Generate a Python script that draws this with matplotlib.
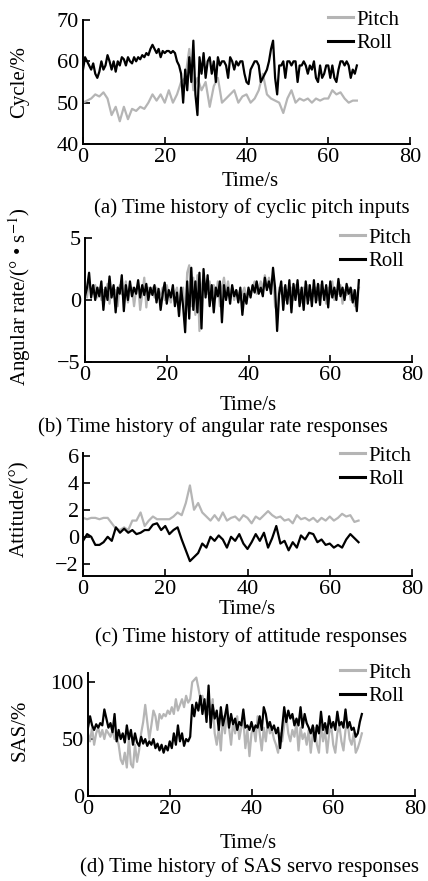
import numpy as np
import matplotlib
matplotlib.use("Agg")
import matplotlib.pyplot as plt

plt.rcParams['font.family'] = ['Liberation Serif', 'DejaVu Serif']
plt.rcParams['mathtext.fontset'] = 'stix'

# (a) cyclic pitch inputs, Cycle/%
roll_a = [58, 61, 60, 59, 58, 59.5, 57, 56, 57.5, 60,
          58, 59, 61.5, 60, 58, 60, 57.5, 60, 59, 61,
          60.5, 59, 61, 60, 59.5, 61, 60, 61, 60.5, 61.5,
          61, 62, 61.5, 63, 64, 63, 62, 63, 61, 62.5,
          62, 62.5, 62.5, 62, 62.5, 62, 60, 59, 57, 50,
          58, 53, 61, 55, 65, 52, 47, 61, 57, 62,
          56, 60, 61, 57, 60, 55, 61, 59, 60, 60,
          59, 56, 61, 60, 58, 60, 59, 60, 60, 57,
          55, 54.5, 58, 59, 60, 60, 59, 55, 56, 57,
          58, 60, 63, 65, 56, 52, 59, 59, 60, 56,
          60, 60, 59, 60, 60, 55, 59, 59, 60, 59,
          57, 59, 58, 60, 56, 55, 59, 56, 57, 59,
          59, 56, 59, 56, 55, 58, 60, 60, 59, 60,
          59, 56, 58, 57, 59]
pitch_a = [50, 50.5, 51, 52, 51.5, 52.5, 51, 47, 49, 45.5,
           49, 46, 48.5, 48, 49, 48.5, 50, 52, 50.5, 52,
           50, 53, 50, 52, 55, 56, 63, 53, 56, 53,
           55, 49, 54, 56, 50, 51, 52, 53, 50, 51.5,
           52, 50, 51, 53, 57, 52, 51, 50.5, 50, 47.5,
           51, 53, 50, 51, 50.5, 51, 50, 51, 50.5, 51,
           51, 53, 52, 52.5, 51, 50, 50.5, 50.5]

# (b) angular rate responses
roll_b = [0.3, 1.0, 2.2, 0.2, 1.2, 0.0, 1.0, 0.3, 1.5, -0.8,
          1.0, 0.0, 1.9, 0.2, 1.2, -1.0, 1.0, 0.5, 2.0, -0.9,
          1.2, 0.0, 1.5, 0.3, 1.0, 0.5, 1.6, 0.2, 1.2, 0.4,
          1.3, 0.0, 1.0, 0.4, 1.2, -0.2, 0.9, -0.8, 0.5, 1.4,
          -0.3, 0.8, 0.2, 1.2, -0.5, 0.6, -1.3, 1.0, -0.5, -2.6,
          1.5, -1.5, 2.6, -0.8, 1.5, -1.0, 2.2, -2.3, 2.5, 0.2,
          2.0, -0.5, 1.2, -1.0, 1.0, 0.3, 1.5, -1.8, 1.2, 0.0,
          1.0, -0.3, 1.2, 0.3, 0.8, -0.2, 1.0, -1.2, 0.5, -0.3,
          1.0, 0.2, 1.2, 0.6, 1.5, 0.5, 1.0, 0.3, 1.8, 0.8,
          1.5, 0.5, 2.6, 1.0, -2.5, 0.5, 1.5, -0.8, 1.2, -0.3,
          1.6, -1.0, 1.3, 0.0, 1.6, -0.5, 1.0, -0.8, 1.5, -0.3,
          1.2, -0.5, 1.6, -0.2, 1.3, -0.4, 1.5, 0.0, 1.2, -0.6,
          1.5, 0.2, 1.0, 0.0, 1.7, 0.3, 1.0, 0.0, 1.3, 0.5,
          1.0, -0.2, 0.8, -0.9, 1.6]
pitch_b = [0.8, 0.2, 1.5, 0.8, 0.5, 1.2, 0.2, 1.0, 0.0, 0.8,
           0.5, 1.3, -0.3, 1.0, 0.3, 0.8, -0.5, 1.2, 0.5, 0.3,
           1.5, -0.2, 0.8, 1.0, -0.5, 0.8, 1.2, -0.8, 0.5, 1.8,
           -0.6, 1.0, 0.5, 1.0, 0.2, 1.0, 0.3, 0.5, 1.0, 0.0,
           1.2, 0.5, -0.2, 0.8, 0.5, 1.0, -0.5, 0.5, 1.0, -1.5,
           2.2, 2.8, -0.5, 1.8, -1.2, 2.0, -2.5, 1.0, 2.0, 1.0,
           0.5, 1.5, 0.0, 1.2, 0.2, 1.5, -0.5, 1.0, 1.8, 0.5,
           1.5, 0.2, 1.0, 0.0, 0.8, 0.5, 0.0, 0.5, 1.0, 0.0,
           0.8, 0.5, 1.0, 1.5, 0.5, 1.0, 1.5, 0.8, 2.0, 1.0,
           1.8, 1.2, 2.0, -0.5, -1.0, 1.0, 0.5, 1.0, 0.0, 0.8,
           0.5, 1.0, 0.0, 1.2, 0.5, 0.8, -0.2, 1.0, 0.5, 1.2,
           0.0, 0.8, 0.3, 1.0, 0.0, 1.2, 0.5, 0.8, -0.3, 1.0,
           0.5, 1.5, 0.0, 0.8, 0.5, 1.2, -0.3, 0.8, 0.4, 1.0,
           0.0, 0.8, -0.5, 0.5, 1.0]

# (c) attitude responses
pitch_c = [1.4, 1.3, 1.4, 1.4, 1.3, 1.4, 1.4, 1.0, 0.6, 0.5,
           0.7, 0.5, 1.2, 1.2, 1.8, 0.8, 1.2, 1.5, 1.3, 1.3,
           1.3, 1.3, 1.5, 1.8, 1.6, 2.5, 3.8, 2.0, 2.5, 1.8,
           1.5, 1.2, 1.6, 1.2, 1.8, 1.2, 1.4, 1.5, 1.2, 1.6,
           1.4, 1.0, 1.5, 1.3, 1.6, 1.9, 1.6, 1.4, 1.5, 1.2,
           1.3, 1.0, 1.6, 1.3, 1.4, 1.2, 1.4, 1.1, 1.4, 1.2,
           1.5, 1.2, 1.4, 1.7, 1.5, 1.6, 1.1, 1.2]
roll_c = [-0.3, 0.2, 0.0, -0.6, -0.6, -0.4, 0.0, -0.3, 0.7, 0.3,
          0.6, 0.3, 0.5, 0.2, 0.3, 0.5, 0.5, 0.9, 1.0, 0.5,
          0.8, 0.2, 0.5, 0.7, -0.2, -1.0, -1.8, -1.5, -1.2, -0.5,
          -0.8, 0.0, -0.3, 0.1, -0.2, -0.8, 0.0, -0.3, 0.2, -0.5,
          -0.9, -0.4, 0.2, -0.3, 0.3, -0.8, -0.1, 0.8, -0.5, -0.3,
          -1.0, -0.4, -0.8, 0.1, -0.2, 0.3, 0.2, -0.4, -0.2, -0.6,
          -0.5, -0.8, -0.6, -0.8, -0.2, 0.2, -0.1, -0.4]

# (d) SAS servo responses, SAS/%
roll_d = [60, 70, 62, 58, 63, 60, 64, 62, 76, 68,
          60, 64, 56, 72, 48, 58, 50, 55, 47, 62,
          50, 58, 45, 55, 47, 44, 52, 46, 50, 44,
          48, 45, 50, 42, 46, 40, 45, 38, 44, 40,
          48, 42, 55, 45, 62, 48, 55, 44, 50, 48,
          52, 80, 70, 82, 75, 88, 72, 85, 65, 97,
          60, 80, 68, 75, 58, 78, 62, 70, 80, 60,
          72, 63, 68, 58, 65, 62, 76, 60, 62, 58,
          65, 57, 62, 60, 70, 58, 78, 72, 60, 65,
          58, 62, 55, 60, 42, 60, 78, 65, 75, 68,
          72, 62, 68, 62, 78, 60, 72, 64, 60, 55,
          62, 48, 62, 55, 74, 58, 64, 55, 70, 60,
          65, 58, 74, 62, 65, 60, 76, 60, 65, 58,
          60, 52, 55, 65, 72]
pitch_d = [55, 48, 60, 45, 55, 60, 52, 58, 50, 58,
           55, 52, 58, 50, 52, 45, 32, 28, 38, 25,
           50, 28, 25, 45, 30, 40, 55, 65, 80, 65,
           50, 62, 75, 70, 58, 72, 68, 72, 70, 75,
           72, 78, 72, 85, 75, 80, 85, 78, 88, 82,
           85, 100, 102, 104, 95, 85, 88, 80, 70, 75,
           68, 85, 55, 45, 60, 40, 70, 55, 75, 60,
           45, 65, 55, 70, 50, 60, 68, 42, 58, 35,
           55, 60, 48, 70, 55, 40, 60, 48, 65, 55,
           58, 50, 45, 38, 55, 48, 62, 70, 55, 48,
           58, 52, 65, 40, 60, 50, 55, 45, 58, 38,
           55, 60, 45, 38, 62, 48, 58, 38, 55, 62,
           45, 38, 55, 62, 48, 40, 58, 65, 50, 45,
           55, 38, 42, 48, 55]

panels = [
    dict(pitch=pitch_a, pstep=1.0, roll=roll_a, rstep=0.5, ylim=(40, 70), yticks=[40, 50, 60, 70],
         ylabel="Cycle/%", cap="(a) Time history of cyclic pitch inputs",
         box=(83, 410, 20, 144), ylab_y=82, xlab=(250, 182), capxy=(252, 208), leg=(328, 10)),
    dict(pitch=pitch_b, pstep=0.5, roll=roll_b, rstep=0.5, ylim=(-5, 5), yticks=[-5, 0, 5],
         ylabel="Angular rate/(° • s$^{-1}$)", cap="(b) Time history of angular rate responses",
         box=(85, 412, 238, 362), ylab_y=297, xlab=(248, 405), capxy=(213, 427), leg=(340, 228)),
    dict(pitch=pitch_c, pstep=1.0, roll=roll_c, rstep=1.0, ylim=(-2.9, 6.2), yticks=[-2, 0, 2, 4, 6],
         ylabel="Attitude/(°)", cap="(c) Time history of attitude responses",
         box=(83, 412, 453, 576), ylab_y=509, xlab=(247, 610), capxy=(251, 637), leg=(340, 446)),
    dict(pitch=pitch_d, pstep=0.5, roll=roll_d, rstep=0.5, ylim=(0, 108), yticks=[0, 50, 100],
         ylabel="SAS/%", cap="(d) Time history of SAS servo responses",
         box=(88, 415, 673, 796), ylab_y=730, xlab=(248, 843), capxy=(249, 867), leg=(340, 663)),
]

W, H = 428, 881
fig = plt.figure(figsize=(W / 100, H / 100), dpi=100)
fs = 15

for p in panels:
    l, r, t, b = p["box"]
    ax = fig.add_axes([l / W, 1 - b / H, (r - l) / W, (b - t) / H])
    tp = np.arange(len(p["pitch"])) * p["pstep"]
    tr = np.arange(len(p["roll"])) * p["rstep"]
    ax.plot(tp, p["pitch"], color="#b5b5b5", lw=1.6, label="Pitch")
    ax.plot(tr, p["roll"], color="black", lw=1.6, label="Roll")
    ax.set_xlim(0, 80)
    ax.set_ylim(*p["ylim"])
    ax.set_xticks([0, 20, 40, 60, 80])
    ax.set_yticks(p["yticks"])
    for s in ["top", "right"]:
        ax.spines[s].set_visible(False)
    for s in ["left", "bottom"]:
        ax.spines[s].set_linewidth(1.4)
    ax.tick_params(direction="in", length=5, width=1.2, labelsize=16, pad=3)
    fig.text(20 / W, 1 - p["ylab_y"] / H, p["ylabel"], rotation=90, ha="center", va="center", fontsize=fs)
    fig.text(p["xlab"][0] / W, 1 - p["xlab"][1] / H, "Time/s", ha="center", va="center", fontsize=fs)
    fig.text(p["capxy"][0] / W, 1 - p["capxy"][1] / H, p["cap"], ha="center", va="center", fontsize=fs)
    leg = ax.legend(loc="upper left", bbox_to_anchor=(p["leg"][0] / W, 1 - p["leg"][1] / H),
                    bbox_transform=fig.transFigure, frameon=False, fontsize=fs,
                    handlelength=1.2, handletextpad=0.15, labelspacing=0.2,
                    borderpad=0, borderaxespad=0)
    for h in leg.get_lines():
        h.set_linewidth(2.2)

fig.savefig("out.png", dpi=100)
